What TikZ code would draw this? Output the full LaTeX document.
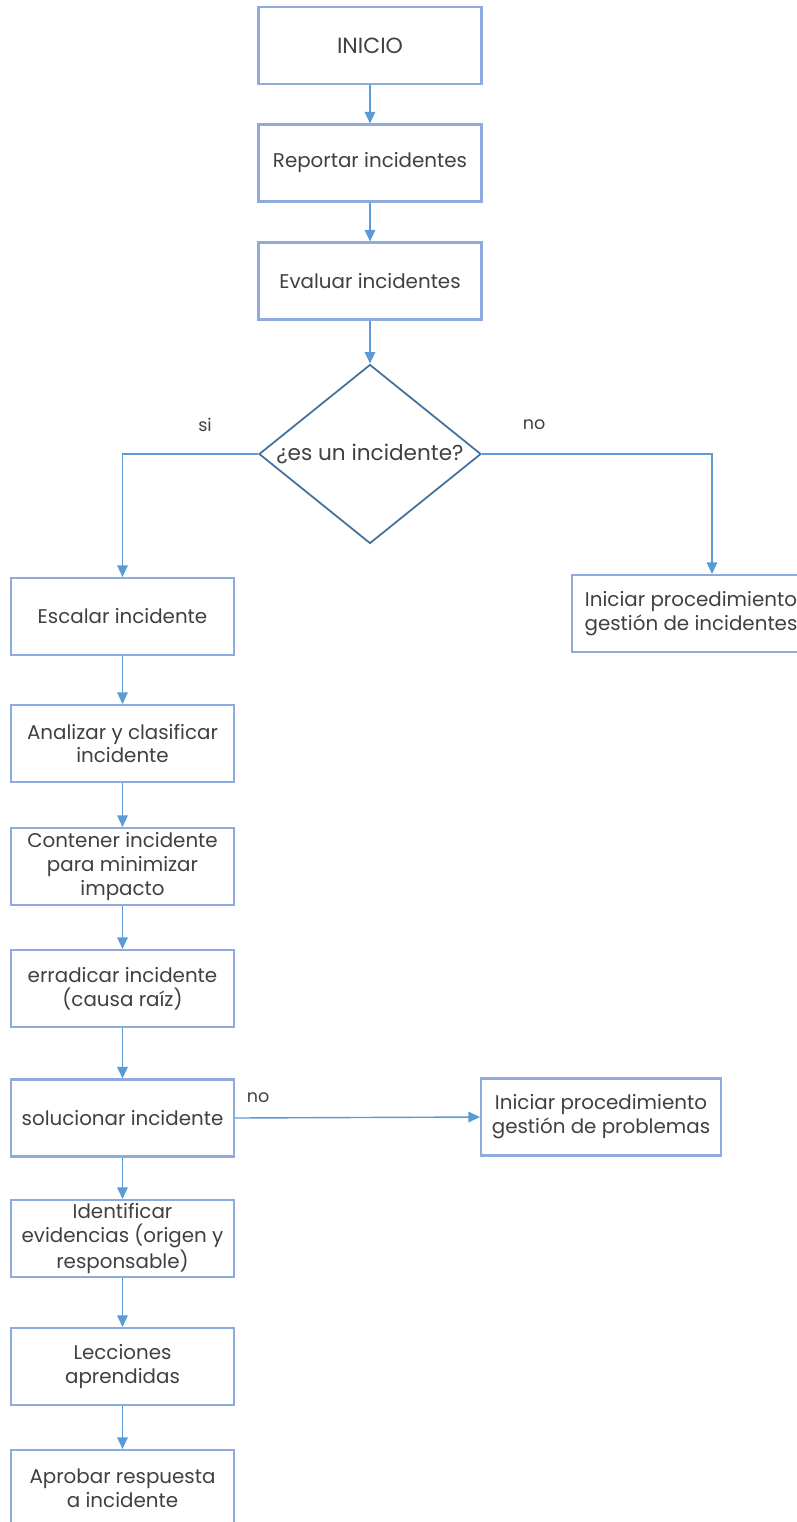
\documentclass[tikz,border=0pt]{standalone}
\usepackage{fontspec}
\setmainfont{Poppins}
\usepackage{tikz}
\usetikzlibrary{arrows.meta,shapes.geometric}
\definecolor{boxblue}{HTML}{8FAADC}
\definecolor{arrblue}{HTML}{5B9BD5}
\definecolor{dmdblue}{HTML}{41719C}
\definecolor{txtgray}{HTML}{404040}
\tikzset{
  proc/.style={draw=boxblue, line width=1.2pt, fill=white, minimum width=4.46cm, minimum height=1.54cm,
               align=center, font=\fontsize{11.3}{13.6}\selectfont, text=txtgray, inner sep=0pt},
  dec/.style={diamond, draw=dmdblue, line width=1pt, minimum width=4.44cm, minimum height=3.58cm, inner sep=0pt},
  flow/.style={-{Triangle[length=2.3mm,width=2.1mm]}, arrblue, line width=0.8pt},
  lbl/.style={font=\fontsize{10}{12}\selectfont, text=txtgray}
}

\begin{document}
\begin{tikzpicture}[x=0.02cm, y=-0.02cm]
\path[use as bounding box, clip] (0,0) rectangle (797,1522);
% main column
\node[proc, font=\fontsize{12.5}{14}\selectfont] (ini) at (370,45.5) {INICIO};
\node[proc] (rep) at (370,163) {Reportar incidentes};
\node[proc] (eva) at (370,281) {Evaluar incidentes};
\node[dec, label={[lbl, font=\fontsize{12.3}{14}\selectfont]center:¿es un incidente?}] (dec) at (370,454) {};
\node[lbl] (si) at (205,425) {si};
\node[lbl] (no1) at (534,425) {no};
\node[proc, minimum width=4.76cm] (gin) at (691,613.5) {Iniciar procedimiento\\gestión de incidentes};
% left column
\node[proc] (esc) at (122.5,616.5) {Escalar incidente};
\node[proc] (ana) at (122.5,743.5) {Analizar y clasificar\\incidente};
\node[proc] (con) at (122.5,866.5) {Contener incidente\\para minimizar\\impacto};
\node[proc] (err) at (122.5,988.5) {erradicar incidente\\(causa raíz)};
\node[proc] (sol) at (122.5,1118) {solucionar incidente};
\node[lbl] (no2) at (258,1098) {no};
\node[proc, minimum width=4.8cm] (gpr) at (601,1117) {Iniciar procedimiento\\gestión de problemas};
\node[proc] (ide) at (122.5,1238.5) {Identificar\\evidencias (origen y\\responsable)};
\node[proc] (lec) at (122.5,1366.5) {Lecciones\\aprendidas};
\node[proc] (apr) at (122.5,1488.5) {Aprobar respuesta\\a incidente};
% connectors
\draw[flow] (ini) -- (rep);
\draw[flow] (rep) -- (eva);
\draw[flow] (eva) -- (dec);
\draw[flow] (dec.west) -| (esc);
\draw[flow] (dec.east) -| ([xshift=0.42cm]gin.north);
\draw[flow] (esc) -- (ana);
\draw[flow] (ana) -- (con);
\draw[flow] (con) -- (err);
\draw[flow] (err) -- (sol);
\draw[flow] (sol.east) -- (gpr.west);
\draw[flow] (sol) -- (ide);
\draw[flow] (ide) -- (lec);
\draw[flow] (lec) -- (apr);
\end{tikzpicture}
\end{document}
